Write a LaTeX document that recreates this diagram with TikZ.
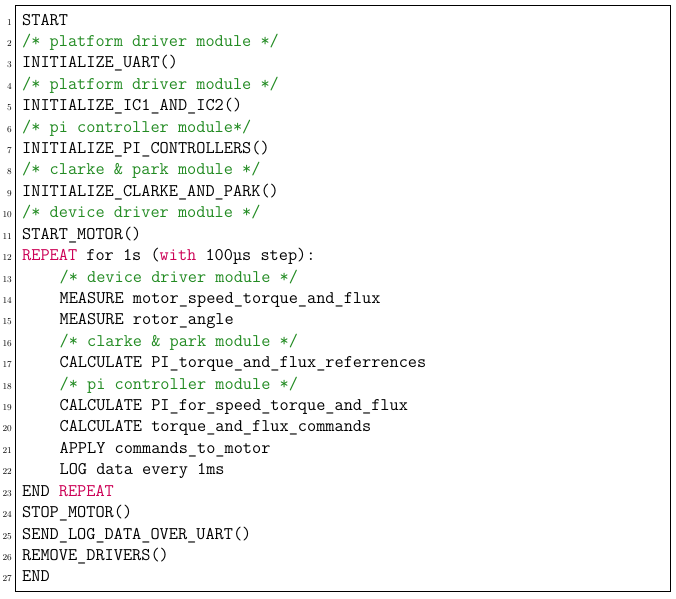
\documentclass[tikz,border=0pt]{standalone}
\usepackage{fontspec}
\definecolor{cmt}{RGB}{34,139,34}
\definecolor{kw}{RGB}{204,0,85}
\newcommand{\cm}[1]{\textcolor{cmt}{#1}}
\newcommand{\kwd}[1]{\textcolor{kw}{#1}}
\newcommand{\ind}{\hspace*{37.4pt}}
\newcommand{\cl}[2]{%
  \node[code] (l#1) at (22pt,{-25pt-(#1-1)*21.42pt}) {#2};
  \node[num] (n#1) at (12pt,{-25pt-(#1-1)*21.42pt}) {#1};}
\begin{document}
\begin{tikzpicture}[x=1pt,y=1pt,
  code/.style={anchor=base west,inner sep=0pt,font=\fontsize{17.8}{21.4}\selectfont\ttfamily},
  num/.style={anchor=base east,inner sep=0pt,font=\fontsize{9}{10}\selectfont}]
\useasboundingbox (0,0) rectangle (676,-598);
\draw[line width=0.8pt] (15,-5) rectangle (670,-591);
\cl{1}{START}
\cl{2}{\cm{/* platform driver module */}}
\cl{3}{INITIALIZE\_UART()}
\cl{4}{\cm{/* platform driver module */}}
\cl{5}{INITIALIZE\_IC1\_AND\_IC2()}
\cl{6}{\cm{/* pi controller module*/}}
\cl{7}{INITIALIZE\_PI\_CONTROLLERS()}
\cl{8}{\cm{/* clarke \& park module */}}
\cl{9}{INITIALIZE\_CLARKE\_AND\_PARK()}
\cl{10}{\cm{/* device driver module */}}
\cl{11}{START\_MOTOR()}
\cl{12}{\kwd{REPEAT} for 1s (\kwd{with} 100µs step):}
\cl{13}{\ind\cm{/* device driver module */}}
\cl{14}{\ind MEASURE motor\_speed\_torque\_and\_flux}
\cl{15}{\ind MEASURE rotor\_angle}
\cl{16}{\ind\cm{/* clarke \& park module */}}
\cl{17}{\ind CALCULATE PI\_torque\_and\_flux\_referrences}
\cl{18}{\ind\cm{/* pi controller module */}}
\cl{19}{\ind CALCULATE PI\_for\_speed\_torque\_and\_flux}
\cl{20}{\ind CALCULATE torque\_and\_flux\_commands}
\cl{21}{\ind APPLY commands\_to\_motor}
\cl{22}{\ind LOG data every 1ms}
\cl{23}{END \kwd{REPEAT}}
\cl{24}{STOP\_MOTOR()}
\cl{25}{SEND\_LOG\_DATA\_OVER\_UART()}
\cl{26}{REMOVE\_DRIVERS()}
\cl{27}{END}
\end{tikzpicture}
\end{document}
